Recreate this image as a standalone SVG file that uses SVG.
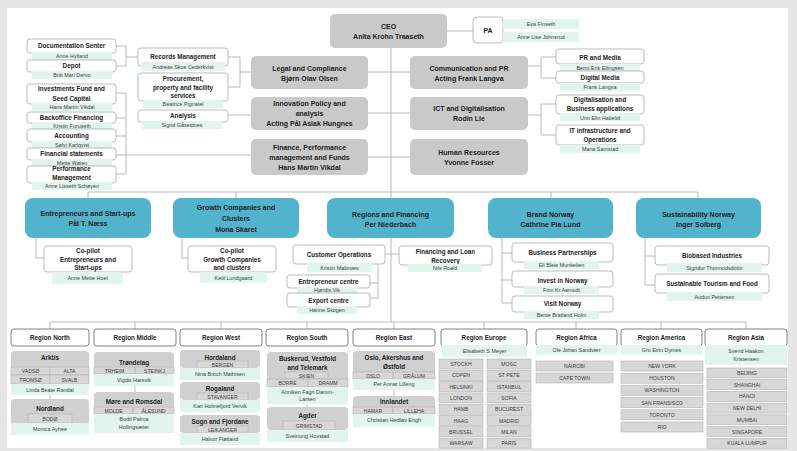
<svg xmlns="http://www.w3.org/2000/svg" width="797" height="451" viewBox="0 0 797 451">
<style>
.g{fill:#c9c9c9}
.b{fill:#52b3cd}
.w{fill:#fff;stroke:#a9a9a9;stroke-width:0.8}
.m{fill:#e2f4ee}
.rc{fill:#d0d0d0}
.c{fill:#d7d7d7;stroke:#b2b2b2;stroke-width:0.6}
.rb{fill:#fff;stroke:#808080;stroke-width:1}
.ln{stroke:#a8a8a8;stroke-width:0.8;fill:none}
text{font-family:"Liberation Sans",Arial,sans-serif;text-anchor:middle;fill:#222}
.h{font-size:7px;font-weight:bold}
.s{font-size:6.3px;font-weight:bold}
.n{font-size:5.4px;fill:#3c3c3c}
.ct{font-size:5.1px;fill:#3c3c3c}
</style>
<rect width="797" height="451" fill="#e6e6e6"/>
<rect x="7" y="8" width="781" height="440" fill="#fff"/>

<g id="connectors" class="ln">
<path d="M447,31H473M391,48V198M368,72H410M368,113H410M368,157H410"/>
<path d="M251,72H240M240,57V87M228,57H240M228,87H240M228,115H251"/>
<path d="M138,57H126M126,46V66M116,46H126M116,66H126"/>
<path d="M251,155H116M126,93V174M116,93H126M116,118H126M116,136H126M116,174H126"/>
<path d="M528,66H541M541,57V78M541,57H556M541,78H556"/>
<path d="M528,115H541M541,104V135M541,104H556M541,135H556"/>
<path d="M88,192H698M88,192V198M236,192V198M551,192V198M698,192V198"/>
<path d="M36,238V258H44M182,238V258H188"/>
<path d="M391,238V322M385,254H399M378,264V298M370,283H378M370,298H378"/>
<path d="M502,238V303M502,253H512M502,280H512M502,303H512"/>
<path d="M645,238V285M645,256H655M645,285H655"/>
<path d="M50,322H746M50,322V329M135,322V329M221,322V329M307,322V329M394,322V329M484,322V329M576,322V329M661,322V329M746,322V329"/>
<path d="M50,395V399M135,386V392M307,404V407M394,390V396"/>
</g>

<g id="ceo"><rect class="g" x="330" y="14" width="117" height="34" rx="5"/><text class="h" x="388.5" y="28.5">CEO</text><text class="h" x="388.5" y="39">Anita Krohn Traaseth</text></g>
<g id="pa"><rect class="w" x="473" y="17" width="30" height="26" rx="4"/><text class="h" x="488" y="32.5">PA</text>
<rect class="m" x="503" y="19" width="76" height="10"/><text class="n" x="541" y="26">Eva Finseth</text>
<rect class="m" x="503" y="32" width="76" height="10"/><text class="n" x="541" y="39">Anne Lise Johnsrud</text></g>

<g id="legal"><rect class="g" x="251" y="56" width="117" height="33" rx="5"/><text class="h" x="309.5" y="70.5">Legal and Compliance</text><text class="h" x="309.5" y="80.5">Bjørn Olav Olsen</text></g>
<g id="innovation"><rect class="g" x="251" y="97" width="117" height="33" rx="5"/><text class="h" x="309.5" y="105.5">Innovation Policy and</text><text class="h" x="309.5" y="115.5">analysis</text><text class="h" x="309.5" y="126">Acting Pål Aslak Hungnes</text></g>
<g id="finance"><rect class="g" x="251" y="139" width="117" height="36" rx="5"/><text class="h" x="309.5" y="149.5">Finance, Performance</text><text class="h" x="309.5" y="159.5">management and Funds</text><text class="h" x="309.5" y="170">Hans Martin Vikdal</text></g>
<g id="comm"><rect class="g" x="410" y="56" width="118" height="33" rx="5"/><text class="h" x="469" y="70.5">Communication and PR</text><text class="h" x="469" y="80.5">Acting Frank Langva</text></g>
<g id="ict"><rect class="g" x="410" y="97" width="118" height="33" rx="5"/><text class="h" x="469" y="110.5">ICT and Digitalisation</text><text class="h" x="469" y="120.5">Rodin Lie</text></g>
<g id="hr"><rect class="g" x="410" y="139" width="118" height="36" rx="5"/><text class="h" x="469" y="154.5">Human Resources</text><text class="h" x="469" y="165">Yvonne Fosser</text></g>

<g id="records"><rect class="w" x="138" y="48" width="90" height="18" rx="3"/><text class="s" x="183" y="58.5">Records Management</text><rect class="m" x="141" y="62" width="84" height="9"/><text class="n" x="183" y="68.5">Andreas Skoe Cederkvist</text></g>
<g id="procurement"><rect class="w" x="138" y="73" width="90" height="28" rx="3"/><text class="s" x="183" y="80.5">Procurement,</text><text class="s" x="183" y="89.5">property and facility</text><text class="s" x="183" y="98">services</text><rect class="m" x="143" y="100" width="80" height="8"/><text class="n" x="183" y="106">Beatrice Pignatel</text></g>
<g id="analysis"><rect class="w" x="138" y="110" width="90" height="12" rx="3"/><text class="s" x="183" y="118">Analysis</text><rect class="m" x="142" y="121" width="80" height="8"/><text class="n" x="182" y="127">Sigrid Gåseidnes</text></g>

<g id="docsenter"><rect class="w" x="27" y="39" width="89" height="14" rx="3"/><text class="s" x="71.5" y="48.2">Documentation Senter</text><rect class="m" x="32" y="52" width="80" height="8"/><text class="n" x="72" y="58">Anne Hylland</text></g>
<g id="depot"><rect class="w" x="27" y="60" width="89" height="12" rx="3"/><text class="s" x="71.5" y="68">Depot</text><rect class="m" x="32" y="71" width="80" height="8"/><text class="n" x="72" y="77">Britt Mari Dervo</text></g>
<g id="investments"><rect class="w" x="27" y="84" width="89" height="20" rx="3"/><text class="s" x="71.5" y="91.3">Investments Fund and</text><text class="s" x="71.5" y="100.5">Seed Capital</text><rect class="m" x="32" y="103" width="80" height="8"/><text class="n" x="72" y="109">Hans Martin Vikdal</text></g>
<g id="backoffice"><rect class="w" x="27" y="112" width="89" height="11" rx="3"/><text class="s" x="71.5" y="120">Backoffice Financing</text><rect class="m" x="32" y="122" width="80" height="7"/><text class="n" x="72" y="127.5">Kristin Furuseth</text></g>
<g id="accounting"><rect class="w" x="27" y="129" width="89" height="13" rx="3"/><text class="s" x="71.5" y="138">Accounting</text><rect class="m" x="32" y="141" width="80" height="7"/><text class="n" x="72" y="146.5">Sølvi Karlqvist</text></g>
<g id="finstatements"><rect class="w" x="27" y="148" width="89" height="12" rx="3"/><text class="s" x="71.5" y="156.3">Financial statements</text><rect class="m" x="32" y="159" width="80" height="7"/><text class="n" x="72" y="164.5">Mette Wøien</text></g>
<g id="performance"><rect class="w" x="27" y="166" width="89" height="17" rx="3"/><text class="s" x="71.5" y="171.3">Performance</text><text class="s" x="71.5" y="180.3">Management</text><rect class="m" x="32" y="182" width="80" height="8"/><text class="n" x="72" y="188">Anne Lisseth Schøyen</text></g>

<g id="prmedia"><rect class="w" x="556" y="49" width="88" height="15" rx="3"/><text class="s" x="600" y="59.5">PR and Media</text><rect class="m" x="560" y="64" width="80" height="8"/><text class="n" x="600" y="70">Bernt Erik Ellingsen</text></g>
<g id="digitalmedia"><rect class="w" x="556" y="71" width="88" height="12" rx="3"/><text class="s" x="600" y="80.3">Digital Media</text><rect class="m" x="560" y="83" width="80" height="8"/><text class="n" x="600" y="89">Frank Langva</text></g>
<g id="digitalisation"><rect class="w" x="556" y="95" width="88" height="19" rx="3"/><text class="s" x="600" y="102.3">Digitalisation and</text><text class="s" x="600" y="111.3">Business applications</text><rect class="m" x="560" y="113" width="80" height="8"/><text class="n" x="600" y="119.5">Unn Elin Hatlelid</text></g>
<g id="itinfra"><rect class="w" x="556" y="125" width="88" height="20" rx="3"/><text class="s" x="600" y="133">IT infrastructure and</text><text class="s" x="600" y="142">Operations</text><rect class="m" x="560" y="145" width="80" height="8"/><text class="n" x="600" y="151">Maria Samstad</text></g>

<g id="entrepreneurs"><rect class="b" x="25" y="198" width="126" height="40" rx="8"/><text class="h" x="88" y="215.5">Entrepreneurs and Start-ups</text><text class="h" x="88" y="225.5">Pål T. Næss</text></g>
<g id="growth"><rect class="b" x="173" y="198" width="126" height="40" rx="8"/><text class="h" x="236" y="209.5">Growth Companies and</text><text class="h" x="236" y="220.5">Clusters</text><text class="h" x="236" y="231.5">Mona Skaret</text></g>
<g id="regions"><rect class="b" x="327" y="198" width="127" height="40" rx="8"/><text class="h" x="390.5" y="216.5">Regions and Financing</text><text class="h" x="390.5" y="226.5">Per Niederbach</text></g>
<g id="brand"><rect class="b" x="488" y="198" width="125" height="40" rx="8"/><text class="h" x="550.5" y="216.5">Brand Norway</text><text class="h" x="550.5" y="226.5">Cathrine Pia Lund</text></g>
<g id="sustainability"><rect class="b" x="636" y="198" width="125" height="40" rx="8"/><text class="h" x="698.5" y="216.5">Sustainability Norway</text><text class="h" x="698.5" y="226.5">Inger Solberg</text></g>

<g id="copilot1"><rect class="w" x="44" y="246" width="88" height="26" rx="3"/><text class="s" x="88" y="252.5">Co-pilot</text><text class="s" x="88" y="261.5">Entrepreneurs and</text><text class="s" x="88" y="270">Start-ups</text><rect class="m" x="52" y="272" width="71" height="12"/><text class="n" x="87.5" y="280">Anne Mette Hoel</text></g>
<g id="copilot2"><rect class="w" x="188" y="246" width="88" height="26" rx="3"/><text class="s" x="232" y="252.5">Co-pilot</text><text class="s" x="232" y="261.5">Growth Companies</text><text class="s" x="232" y="270">and clusters</text><rect class="m" x="200" y="272" width="67" height="11"/><text class="n" x="233.5" y="279.5">Ketil Lundgaard</text></g>

<g id="customerops"><rect class="w" x="293" y="245" width="92" height="19" rx="3"/><text class="s" x="339" y="257">Customer Operations</text><rect class="m" x="307" y="263" width="65" height="9"/><text class="n" x="339.5" y="269.5">Kristin Malonæs</text></g>
<g id="entcentre"><rect class="w" x="287" y="275" width="83" height="13" rx="3"/><text class="s" x="328.5" y="284">Entrepreneur centre</text><rect class="m" x="297" y="287" width="60" height="7"/><text class="n" x="327" y="292.3">Hjørdis Vik</text></g>
<g id="exportcentre"><rect class="w" x="287" y="293" width="83" height="14" rx="3"/><text class="s" x="328.5" y="302.5">Export centre</text><rect class="m" x="297" y="306" width="60" height="8"/><text class="n" x="327" y="311.5">Hanne Skogen</text></g>
<g id="financing"><rect class="w" x="399" y="246" width="93" height="19" rx="3"/><text class="s" x="445.5" y="254">Financing and Loan</text><text class="s" x="445.5" y="263">Recovery</text><rect class="m" x="408" y="264" width="74" height="8"/><text class="n" x="445" y="270">Nils Roald</text></g>

<g id="partnerships"><rect class="w" x="512" y="243" width="101" height="19" rx="3"/><text class="s" x="562.5" y="255.3">Business Partnerships</text><rect class="m" x="524" y="261" width="75" height="8"/><text class="n" x="561.5" y="267">Eli Bleie Munkelien</text></g>
<g id="invest"><rect class="w" x="512" y="271" width="101" height="16" rx="3"/><text class="s" x="562.5" y="283">Invest in Norway</text><rect class="m" x="524" y="286" width="75" height="8"/><text class="n" x="561.5" y="292">Finn Kr Aamodt</text></g>
<g id="visit"><rect class="w" x="512" y="296" width="101" height="16" rx="3"/><text class="s" x="562.5" y="306">Visit Norway</text><rect class="m" x="524" y="311" width="75" height="8"/><text class="n" x="561.5" y="317">Bente Bratland Holm</text></g>

<g id="biobased"><rect class="w" x="655" y="246" width="114" height="19" rx="3"/><text class="s" x="712" y="258">Biobased Industries</text><rect class="m" x="667" y="263" width="95" height="9"/><text class="n" x="714.5" y="269.5">Sigridur Thormodsdottir</text></g>
<g id="tourism"><rect class="w" x="655" y="274" width="114" height="19" rx="3"/><text class="s" x="712" y="285.5">Sustainable Tourism and Food</text><rect class="m" x="667" y="292" width="95" height="9"/><text class="n" x="714.5" y="298.5">Audun Pettersen</text></g>

<g id="regionnorth"><rect class="rb" x="11" y="329" width="78" height="17" rx="3"/><text class="s" x="50" y="340">Region North</text></g>
<g id="arktis"><rect class="rc" x="11" y="351" width="78" height="34" rx="4"/><text class="s" x="50" y="359.5">Arktis</text>
<rect class="c" x="11" y="367" width="39" height="8"/><text class="ct" x="30.5" y="373">VADSØ</text><rect class="c" x="50" y="367" width="39" height="8"/><text class="ct" x="69.5" y="373">ALTA</text>
<rect class="c" x="11" y="375" width="39" height="9"/><text class="ct" x="30.5" y="381.5">TROMSØ</text><rect class="c" x="50" y="375" width="39" height="9"/><text class="ct" x="69.5" y="381.5">SVALB</text>
<rect class="m" x="11" y="384" width="78" height="11"/><text class="n" x="50" y="391.5">Linda Beate Randal</text></g>
<g id="nordland"><rect class="rc" x="11" y="399" width="78" height="26" rx="4"/><text class="s" x="50" y="410.5">Nordland</text><rect class="c" x="28" y="414" width="44" height="9"/><text class="ct" x="50" y="420.5">BODØ</text><rect class="m" x="11" y="423" width="78" height="12"/><text class="n" x="50" y="430.5">Monica Ayhee</text></g>

<g id="regionmiddle"><rect class="rb" x="94" y="329" width="82" height="17" rx="3"/><text class="s" x="135" y="340">Region Middle</text></g>
<g id="trondelag"><rect class="rc" x="94" y="352" width="80" height="22" rx="4"/><text class="s" x="134" y="364.5">Trøndelag</text>
<rect class="c" x="94" y="367" width="41" height="7"/><text class="ct" x="114.5" y="372.5">TRHEIM</text><rect class="c" x="135" y="367" width="39" height="7"/><text class="ct" x="154.5" y="372.5">STEINKJ</text>
<rect class="m" x="94" y="374" width="80" height="12"/><text class="n" x="134" y="382">Vigdis Harsvik</text></g>
<g id="more"><rect class="rc" x="94" y="392" width="80" height="22" rx="4"/><text class="s" x="134" y="403.5">Møre and Romsdal</text>
<rect class="c" x="94" y="407" width="39" height="7"/><text class="ct" x="113.5" y="412.5">MOLDE</text><rect class="c" x="133" y="407" width="41" height="7"/><text class="ct" x="153.5" y="412.5">ÅLESUND</text>
<rect class="m" x="94" y="414" width="80" height="19"/><text class="n" x="134" y="421">Bodil Palma</text><text class="n" x="134" y="429">Hollingsæter</text></g>

<g id="regionwest"><rect class="rb" x="180" y="329" width="82" height="17" rx="3"/><text class="s" x="221" y="340">Region West</text></g>
<g id="hordaland"><rect class="rc" x="180" y="350" width="80" height="18" rx="4"/><text class="s" x="220" y="359.5">Hordaland</text><rect class="c" x="197" y="361" width="51" height="7"/><text class="ct" x="222.5" y="366.5">BERGEN</text><rect class="m" x="180" y="368" width="80" height="12"/><text class="n" x="220" y="375.5">Nina Broch Mathisen</text></g>
<g id="rogaland"><rect class="rc" x="180" y="382" width="80" height="18" rx="4"/><text class="s" x="220" y="390.5">Rogaland</text><rect class="c" x="197" y="393" width="51" height="7"/><text class="ct" x="222.5" y="398.5">STAVANGER</text><rect class="m" x="180" y="400" width="80" height="12"/><text class="n" x="220" y="407.5">Kari Holmefjord Vervik</text></g>
<g id="sogn"><rect class="rc" x="180" y="415" width="80" height="18" rx="4"/><text class="s" x="220" y="424">Sogn and Fjordane</text><rect class="c" x="197" y="426" width="51" height="7"/><text class="ct" x="222.5" y="431.5">LEIKANGER</text><rect class="m" x="180" y="433" width="80" height="12"/><text class="n" x="220" y="440.5">Halvor Fløtland</text></g>

<g id="regionsouth"><rect class="rb" x="266" y="329" width="82" height="17" rx="3"/><text class="s" x="307" y="340">Region South</text></g>
<g id="buskerud"><rect class="rc" x="267" y="352" width="81" height="35" rx="4"/><text class="s" x="307.5" y="360.5">Buskerud,  Vestfold</text><text class="s" x="307.5" y="369.5">and Telemark</text>
<rect class="c" x="285" y="372" width="43" height="7"/><text class="ct" x="306.5" y="377.5">SKIEN</text>
<rect class="c" x="267" y="379" width="41" height="8"/><text class="ct" x="287.5" y="385">BORRE</text><rect class="c" x="308" y="379" width="40" height="8"/><text class="ct" x="328" y="385">DRAMM</text>
<rect class="m" x="267" y="387" width="81" height="17"/><text class="n" x="307.5" y="393.5">Anniken Fagri Damm-</text><text class="n" x="307.5" y="401">Larsen</text></g>
<g id="agder"><rect class="rc" x="267" y="407" width="81" height="23" rx="4"/><text class="s" x="307.5" y="417.5">Agder</text><rect class="c" x="283" y="421" width="52" height="9"/><text class="ct" x="309" y="427.5">GRIMSTAD</text><rect class="m" x="267" y="430" width="81" height="12"/><text class="n" x="307.5" y="438">Sveinung Hovstad</text></g>

<g id="regioneast"><rect class="rb" x="353" y="329" width="82" height="17" rx="3"/><text class="s" x="394" y="340">Region East</text></g>
<g id="oslo"><rect class="rc" x="353" y="351" width="82" height="28" rx="4"/><text class="s" x="394" y="359.5">Oslo, Akershus and</text><text class="s" x="394" y="368.5">Østfold</text>
<rect class="c" x="353" y="372" width="40" height="7"/><text class="ct" x="373" y="377.5">OSLO</text><rect class="c" x="393" y="372" width="42" height="7"/><text class="ct" x="414" y="377.5">GRÅLUM</text>
<rect class="m" x="353" y="379" width="82" height="11"/><text class="n" x="394" y="386">Per Annar Lilleng</text></g>
<g id="innlandet"><rect class="rc" x="353" y="396" width="82" height="18" rx="4"/><text class="s" x="394" y="403.5">Innlandet</text>
<rect class="c" x="353" y="407" width="40" height="7"/><text class="ct" x="373" y="412.5">HAMAR</text><rect class="c" x="393" y="407" width="42" height="7"/><text class="ct" x="414" y="412.5">LILLEHA</text>
<rect class="m" x="353" y="414" width="82" height="13"/><text class="n" x="394" y="422">Christian Hedløv Engh</text></g>

<g id="regioneurope"><rect class="rb" x="441" y="329" width="86" height="17" rx="3"/><text class="s" x="484" y="340">Region Europe</text><rect class="m" x="442" y="345" width="85" height="12"/><text class="n" x="484.5" y="353">Elisabeth S Meyer</text>
<rect class="c" x="439" y="359" width="44" height="10"/><text class="ct" x="461" y="366">STOCKH</text><rect class="c" x="487" y="359" width="44" height="10"/><text class="ct" x="509" y="366">MOSC</text>
<rect class="c" x="439" y="370.3" width="44" height="10"/><text class="ct" x="461" y="377.3">COPEN</text><rect class="c" x="487" y="370.3" width="44" height="10"/><text class="ct" x="509" y="377.3">ST PETE</text>
<rect class="c" x="439" y="381.6" width="44" height="10"/><text class="ct" x="461" y="388.6">HELSINKI</text><rect class="c" x="487" y="381.6" width="44" height="10"/><text class="ct" x="509" y="388.6">ISTANBUL</text>
<rect class="c" x="439" y="392.9" width="44" height="10"/><text class="ct" x="461" y="399.9">LONDON</text><rect class="c" x="487" y="392.9" width="44" height="10"/><text class="ct" x="509" y="399.9">SOFIA</text>
<rect class="c" x="439" y="404.2" width="44" height="10"/><text class="ct" x="461" y="411.2">HAMB</text><rect class="c" x="487" y="404.2" width="44" height="10"/><text class="ct" x="509" y="411.2">BUCUREST</text>
<rect class="c" x="439" y="415.5" width="44" height="10"/><text class="ct" x="461" y="422.5">HAAG</text><rect class="c" x="487" y="415.5" width="44" height="10"/><text class="ct" x="509" y="422.5">MADRID</text>
<rect class="c" x="439" y="426.8" width="44" height="10"/><text class="ct" x="461" y="433.8">BRUSSEL</text><rect class="c" x="487" y="426.8" width="44" height="10"/><text class="ct" x="509" y="433.8">MILAN</text>
<rect class="c" x="439" y="438.1" width="44" height="10"/><text class="ct" x="461" y="445.1">WARSAW</text><rect class="c" x="487" y="438.1" width="44" height="10"/><text class="ct" x="509" y="445.1">PARIS</text></g>

<g id="regionafrica"><rect class="rb" x="536" y="329" width="81" height="17" rx="3"/><text class="s" x="576.5" y="340">Region Africa</text><rect class="m" x="536" y="345" width="81" height="10"/><text class="n" x="576.5" y="352">Ole Johan Sandvær</text>
<rect class="c" x="536" y="361" width="77" height="10"/><text class="ct" x="574.5" y="368">NAIROBI</text>
<rect class="c" x="536" y="373" width="77" height="10"/><text class="ct" x="574.5" y="380">CAPE TOWN</text></g>

<g id="regionamerica"><rect class="rb" x="621" y="329" width="81" height="17" rx="3"/><text class="s" x="661.5" y="340">Region America</text><rect class="m" x="621" y="345" width="81" height="10"/><text class="n" x="661.5" y="352">Gro Eirin Dymes</text>
<rect class="c" x="621" y="361" width="82" height="10"/><text class="ct" x="662" y="368">NEW YORK</text>
<rect class="c" x="621" y="373.2" width="82" height="10"/><text class="ct" x="662" y="380.2">HOUSTON</text>
<rect class="c" x="621" y="385.4" width="82" height="10"/><text class="ct" x="662" y="392.4">WASHINGTON</text>
<rect class="c" x="621" y="397.6" width="82" height="10"/><text class="ct" x="662" y="404.6">SAN FRANSISCO</text>
<rect class="c" x="621" y="409.8" width="82" height="10"/><text class="ct" x="662" y="416.8">TORONTO</text>
<rect class="c" x="621" y="422" width="82" height="10"/><text class="ct" x="662" y="429">RIO</text></g>

<g id="regionasia"><rect class="rb" x="705" y="329" width="82" height="17" rx="3"/><text class="s" x="746" y="340">Region Asia</text><rect class="m" x="705" y="345" width="82" height="20"/><text class="n" x="746" y="352.5">Svend Haakon</text><text class="n" x="746" y="361">Kristensen</text>
<rect class="c" x="707" y="368" width="80" height="10"/><text class="ct" x="747" y="375">BEIJING</text>
<rect class="c" x="707" y="379.7" width="80" height="10"/><text class="ct" x="747" y="386.7">SHANGHAI</text>
<rect class="c" x="707" y="391.4" width="80" height="10"/><text class="ct" x="747" y="398.4">HANOI</text>
<rect class="c" x="707" y="403.1" width="80" height="10"/><text class="ct" x="747" y="410.1">NEW DELHI</text>
<rect class="c" x="707" y="414.8" width="80" height="10"/><text class="ct" x="747" y="421.8">MUMBAI</text>
<rect class="c" x="707" y="426.5" width="80" height="10"/><text class="ct" x="747" y="433.5">SINGAPORE</text>
<rect class="c" x="707" y="438.2" width="80" height="10"/><text class="ct" x="747" y="445.2">KUALA LUMPUR</text></g>
</svg>
